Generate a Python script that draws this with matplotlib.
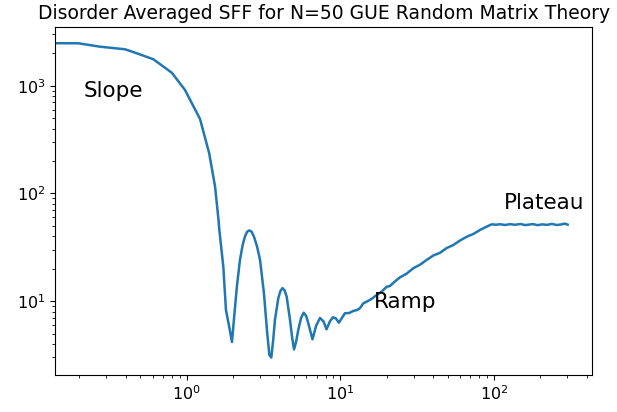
import matplotlib
matplotlib.use('Agg')
import matplotlib.pyplot as plt
import numpy as np

# time values and averaged SFF
t = [0.1, 0.197, 0.273, 0.397, 0.473, 0.607, 0.799, 0.975, 1.0, 1.22, 1.40,
     1.53, 1.61, 1.63, 1.73, 1.80, 1.89, 1.97, 2.05, 2.12, 2.22, 2.31, 2.39,
     2.47, 2.55, 2.64, 2.74, 2.87, 3.00, 3.18, 3.34, 3.45, 3.55, 3.65, 3.75,
     3.94, 4.07, 4.20, 4.33, 4.47, 4.70, 4.85, 4.99, 5.15, 5.32, 5.55, 5.77,
     5.98, 6.18, 6.58, 6.95, 7.36, 7.75, 8.12, 8.55, 8.95, 9.35, 9.77, 10.7,
     11.4, 12.1, 12.8, 13.4, 14.1, 14.8, 16.0, 17.2, 18.5, 20.0, 21.0, 22.6,
     24.4, 27.0, 29.8, 33.0, 36.4, 40.2, 44.5, 49.0, 54.3, 60.0, 66.4, 73.2,
     80.9, 88.0, 96.4, 103, 109, 118, 127, 137, 148, 160, 172, 179, 192, 206,
     221, 238, 255, 272, 288, 301]
sff = [2480, 2476, 2301, 2178, 2000, 1758, 1321, 912, 850, 491, 236,
       115, 56.6, 45.7, 20.9, 8.26, 5.78, 4.17, 8.0, 13.6, 24.1, 33.0, 39.6,
       44.0, 45.3, 44.2, 39.6, 32.0, 24.1, 11.8, 5.03, 3.16, 2.99, 4.3, 6.68,
       10.6, 12.4, 13.2, 12.6, 11.0, 6.68, 4.6, 3.56, 4.2, 5.40, 7.0, 7.80,
       7.3, 6.22, 4.42, 5.9, 6.97, 6.5, 5.47, 6.5, 7.08, 6.9, 6.30, 7.71,
       7.75, 8.09, 8.26, 8.60, 9.54, 9.87, 10.5, 11.4, 12.2, 13.6, 13.8, 15.2,
       16.6, 18.0, 20.2, 21.8, 24.1, 26.5, 28.1, 31.0, 33.2, 36.5, 39.6, 42.0,
       45.7, 48.6, 51.6, 51.2, 51.7, 50.9, 51.8, 51.1, 52.0, 50.8, 51.5, 51.9,
       50.7, 51.6, 51.0, 52.1, 50.9, 51.4, 52.4, 51.3]

labels = ['Slope', 'Ramp', 'Plateau']
label_x = [0.215, 16.5, 116]
label_y = [780, 8.69, 71.6]

fig = plt.figure(figsize=(6.17, 4.12), dpi=100)
ax = fig.add_axes([55.3 / 617, (412 - 375) / 412, (592 - 55.3) / 617, (375 - 27.3) / 412])
ax.plot(t, sff, color='#1f77b4', lw=1.8)
ax.set_xscale('log')
ax.set_yscale('log')
ax.set_xlim(0.1396, 433.5)
ax.set_ylim(2.06, 3484)
ax.tick_params(labelsize=11.5)

for s, x, y in zip(labels, label_x, label_y):
    ax.text(x, y, s, fontsize=15.5)

ax.set_title('Disorder Averaged SFF for N=50 GUE Random Matrix Theory', fontsize=13.5)

fig.savefig('out.png', dpi=100)
